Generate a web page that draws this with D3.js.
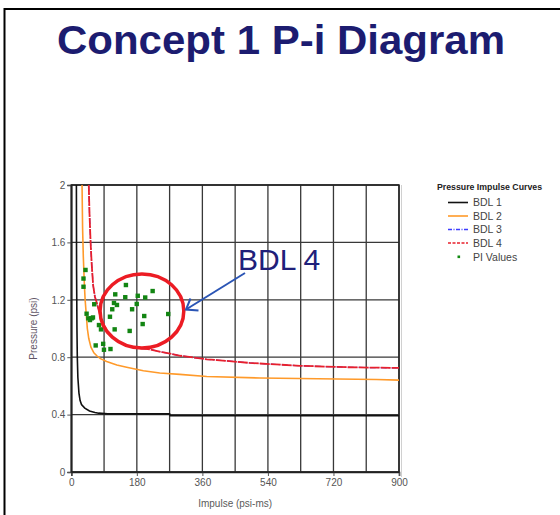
<!DOCTYPE html>
<html>
<head>
<meta charset="utf-8">
<script src="https://cdn.jsdelivr.net/npm/d3@7/dist/d3.min.js"></script>
<style>
  html, body { margin: 0; padding: 0; background: #fff; }
  svg { display: block; }
</style>
</head>
<body>
<svg id="chart" width="560" height="515"></svg>
<script>
// ---------- data ----------
const xTicks = [0, 180, 360, 540, 720, 900];
const xGrid = [0, 90, 180, 270, 360, 450, 540, 630, 720, 810, 900];
const yTicks = [0, 0.4, 0.8, 1.2, 1.6, 2];

// [impulse (psi-ms), pressure (psi)]
const bdl1 = [[14,2.0],[14.5,1.4],[15.5,1.0],[16.5,0.8],[18,0.66],[21,0.55],[24,0.5],[28,0.47],[37,0.445],[50,0.425],[65,0.415],[75,0.41],[100,0.405],[270,0.405],[272,0.392],[900,0.392]];
const bdl2 = [[29.5,2.0],[31,1.7],[33,1.5],[36,1.3],[38,1.2],[41,1.1],[44,1.0],[48,0.93],[54,0.87],[62,0.83],[70,0.81],[80,0.79],[97,0.77],[125,0.745],[152,0.73],[198,0.705],[243,0.69],[298,0.68],[372,0.665],[518,0.655],[838,0.645],[900,0.64]];
const bdl3 = [[48,2.0],[50,1.8],[53,1.6],[56,1.45],[60,1.3],[65,1.22],[70,1.18],[80,1.08],[100,0.97],[130,0.905],[160,0.875],[190,0.862],[216,0.855],[250,0.835],[300,0.81],[372,0.785],[400,0.78],[490,0.76],[628,0.74],[760,0.73],[900,0.725]];
const bdl4 = [[48,2.0],[50,1.8],[53,1.6],[56,1.45],[60,1.3],[65,1.22],[70,1.18],[80,1.08],[100,0.97],[130,0.905],[160,0.875],[190,0.862],[216,0.855],[250,0.835],[300,0.81],[372,0.785],[400,0.78],[490,0.76],[628,0.74],[760,0.73],[900,0.725]];
const piValues = [[39,1.408],[33.5,1.348],[33.5,1.291],[63,1.169],[42,1.103],[46.7,1.071],[56,1.071],[51.3,1.059],[59.5,1.077],[76,1.024],[81.5,0.994],[67,0.882],[87.5,0.893],[89.7,0.852],[107.6,0.857],[150,1.303],[120.7,1.238],[148.2,1.218],[182.5,1.228],[203,1.216],[223.4,1.261],[117.2,1.178],[125.4,1.164],[112.5,1.134],[179.7,1.171],[167,1.134],[106.2,1.082],[200.3,1.087],[266.2,1.101],[196,1.031],[119.1,0.994],[160.3,0.983]];

const seriesNames = ["BDL 1", "BDL 2", "BDL 3", "BDL 4"];
const legendTitle = "Pressure Impulse Curves";
const titleText = "Concept 1 P-i Diagram";
const calloutText = "BDL 4";

// ---------- layout ----------
const svg = d3.select("#chart");
const FONT = "'Liberation Sans', Arial, sans-serif";
const x = d3.scaleLinear().domain([0, 900]).range([71.3, 399]);
const y = d3.scaleLinear().domain([0, 2]).range([472, 185]);

// slide frame
svg.append("line").attr("x1", 4).attr("x2", 560).attr("y1", 9).attr("y2", 9).attr("stroke", "#000").attr("stroke-width", 2);
svg.append("line").attr("x1", 4.5).attr("x2", 4.5).attr("y1", 8).attr("y2", 515).attr("stroke", "#000").attr("stroke-width", 2);

// title
svg.append("text").attr("x", 57).attr("y", 54)
  .attr("font-family", FONT).attr("font-weight", "bold").attr("font-size", 41)
  .attr("fill", "#1c1c70").attr("textLength", 448).attr("lengthAdjust", "spacingAndGlyphs")
  .text(titleText);

// light chart-image edge
svg.append("line").attr("x1", 401.5).attr("x2", 401.5).attr("y1", 185).attr("y2", 477)
  .attr("stroke", "#d0d0d0").attr("stroke-width", 1);

// grid
const grid = svg.append("g");
grid.selectAll(".vg").data(xGrid).join("line")
  .attr("x1", d => x(d)).attr("x2", d => x(d)).attr("y1", y(2)).attr("y2", y(0))
  .attr("stroke", "#383838").attr("stroke-width", 1.3);
grid.selectAll(".hg").data(yTicks).join("line")
  .attr("x1", x(0)).attr("x2", x(900)).attr("y1", d => y(d)).attr("y2", d => y(d))
  .attr("stroke", "#383838").attr("stroke-width", 1.3);

// axes
const yAxis = svg.append("g").attr("transform", `translate(${x(0)},0)`)
  .call(d3.axisLeft(y).tickValues(yTicks).tickSize(4).tickPadding(2).tickFormat(d3.format("~g")));
const xAxis = svg.append("g").attr("transform", `translate(0,${y(0)})`)
  .call(d3.axisBottom(x).tickValues(xTicks).tickSize(4).tickPadding(3).tickFormat(d3.format("~g")));
[xAxis, yAxis].forEach(a => {
  a.select(".domain").attr("stroke", "#222").attr("stroke-width", 1.6);
  a.selectAll(".tick line").attr("stroke", "#555");
  a.selectAll("text").attr("font-family", FONT).attr("font-size", 10).attr("fill", "#555");
});
svg.append("rect").attr("x", x(0)).attr("y", y(2)).attr("width", x(900) - x(0)).attr("height", y(0) - y(2))
  .attr("fill", "none").attr("stroke", "#222").attr("stroke-width", 1.5);

// axis titles
svg.append("text").attr("x", (x(0) + x(900)) / 2).attr("y", 507)
  .attr("text-anchor", "middle").attr("font-family", FONT).attr("font-size", 10).attr("fill", "#5a5a5a")
  .text("Impulse (psi-ms)");
svg.append("text").attr("transform", `translate(37,${(y(0) + y(2)) / 2}) rotate(-90)`)
  .attr("text-anchor", "middle").attr("font-family", FONT).attr("font-size", 10).attr("fill", "#5f5566")
  .text("Pressure (psi)");

// clip
svg.append("clipPath").attr("id", "plotclip").append("rect")
  .attr("x", x(0)).attr("y", y(2) - 1).attr("width", x(900) - x(0)).attr("height", y(0) - y(2) + 1);

const line = d3.line().x(d => x(d[0])).y(d => y(d[1]));
const plot = svg.append("g").attr("clip-path", "url(#plotclip)");
const styles = [
  { data: bdl1, color: "#111111", dash: null, w: 1.6 },
  { data: bdl2, color: "#ff9a2a", dash: null, w: 1.6 },
  { data: bdl3, color: "#3c3cff", dash: "6,2,1,2", w: 1.2 },
  { data: bdl4, color: "#e8202c", dash: "10,1", w: 1.8 }
];
styles.forEach(s => {
  plot.append("path").datum(s.data).attr("d", line)
    .attr("fill", "none").attr("stroke", s.color).attr("stroke-width", s.w)
    .attr("stroke-dasharray", s.dash);
});

// PI values
plot.selectAll(".pi").data(piValues).join("rect")
  .attr("x", d => x(d[0]) - 2.2).attr("y", d => y(d[1]) - 2.2)
  .attr("width", 4.4).attr("height", 4.4).attr("fill", "#128512");

// annotation ellipse (data space)
const ecx = 194, ecy = 1.122, erx = 115, ery = 0.258;
svg.append("ellipse")
  .attr("cx", x(ecx)).attr("cy", y(ecy))
  .attr("rx", x(ecx + erx) - x(ecx)).attr("ry", y(ecy - ery) - y(ecy))
  .attr("fill", "none").attr("stroke", "#ec1c24").attr("stroke-width", 3.5);

// arrow + callout
const ax0 = 245, ay0 = 273, ax1 = 186, ay1 = 309.5;
svg.append("line").attr("x1", ax0).attr("y1", ay0).attr("x2", ax1).attr("y2", ay1)
  .attr("stroke", "#2b55b5").attr("stroke-width", 2);
svg.append("path").attr("d", `M190.5,298.5 L${ax1},${ay1} L198.5,310.5`)
  .attr("fill", "none").attr("stroke", "#2b55b5").attr("stroke-width", 2).attr("stroke-linejoin", "miter");
svg.append("text").attr("x", 238).attr("y", 270)
  .attr("font-family", FONT).attr("font-size", 30).attr("fill", "#20207a")
  .text(calloutText);

// legend
const lg = svg.append("g");
lg.append("text").attr("x", 437).attr("y", 190)
  .attr("font-family", FONT).attr("font-weight", "bold").attr("font-size", 9).attr("fill", "#222")
  .attr("textLength", 105).attr("lengthAdjust", "spacingAndGlyphs").text(legendTitle);
const ly = [202.5, 216, 229.5, 243];
styles.forEach((s, i) => {
  lg.append("line").attr("x1", 448).attr("x2", 468).attr("y1", ly[i]).attr("y2", ly[i])
    .attr("stroke", s.color).attr("stroke-width", 1.6).attr("stroke-dasharray", s.dash ? (i === 2 ? "4,1.5,1,1.5" : "3,1.5") : null);
  lg.append("text").attr("x", 473).attr("y", ly[i] + 3.7)
    .attr("font-family", FONT).attr("font-size", 10.5).attr("fill", "#444").text(seriesNames[i]);
});
lg.append("rect").attr("x", 457.5).attr("y", 255.5).attr("width", 2.6).attr("height", 2.6).attr("fill", "#128a12");
lg.append("text").attr("x", 473).attr("y", 260.5)
  .attr("font-family", FONT).attr("font-size", 10.5).attr("fill", "#444").text("PI Values");
</script>
</body>
</html>
